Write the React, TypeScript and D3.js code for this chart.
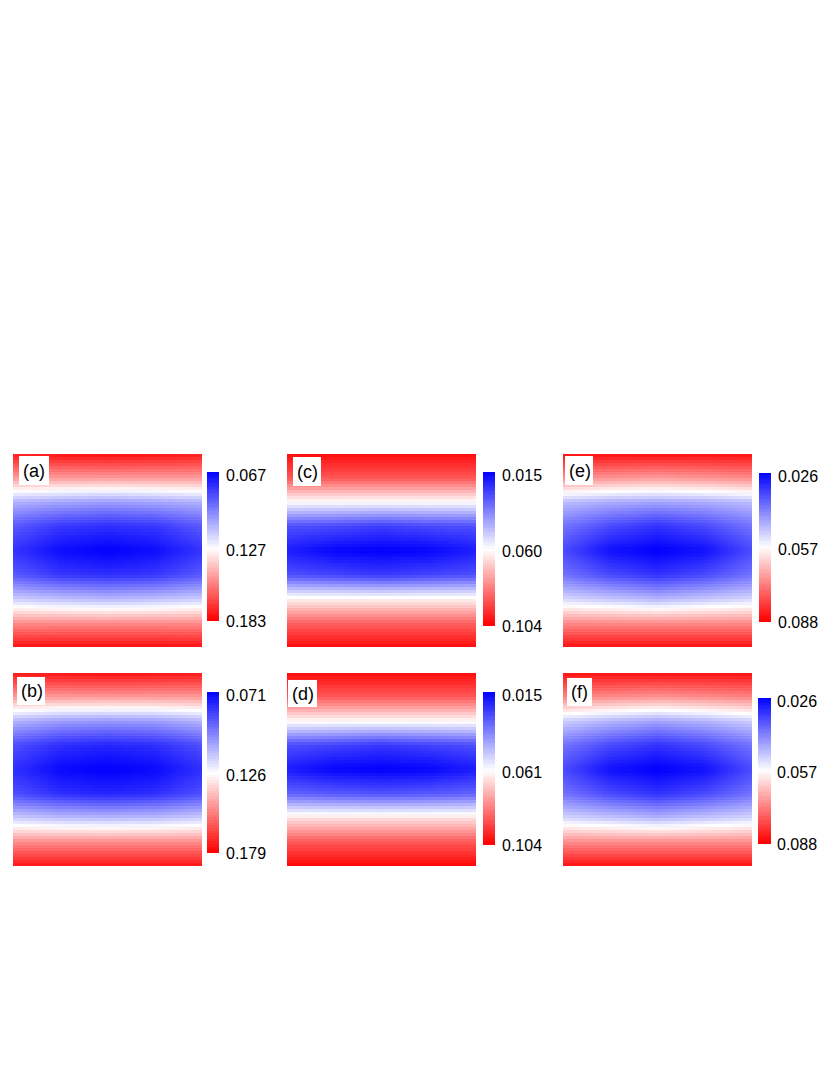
import React from "react";
import * as d3 from "d3";

// ---------- DATA ----------
const panelLabels = ["(a)", "(b)", "(c)", "(d)", "(e)", "(f)"];

// sample positions of the field grids (fraction of panel height / width)
const rowFractions = [0, 0.125, 0.25, 0.375, 0.5, 0.625, 0.75, 0.875, 1];
const colFractions = [0, 0.25, 0.5, 0.75, 1];

// colour-bar values: [min (blue), mid (white), max (red)]
const scaleA = [0.067, 0.127, 0.183];
const scaleB = [0.071, 0.126, 0.179];
const scaleC = [0.015, 0.06, 0.104];
const scaleD = [0.015, 0.061, 0.104];
const scaleE = [0.026, 0.057, 0.088];
const scaleF = [0.026, 0.057, 0.088];

// field values (rows top→bottom, columns left→right)
const fieldA = [
  [0.177, 0.179, 0.180, 0.179, 0.177],
  [0.149, 0.149, 0.149, 0.149, 0.149],
  [0.109, 0.106, 0.104, 0.106, 0.109],
  [0.088, 0.080, 0.078, 0.080, 0.088],
  [0.079, 0.070, 0.067, 0.070, 0.079],
  [0.088, 0.080, 0.078, 0.080, 0.088],
  [0.115, 0.112, 0.110, 0.112, 0.115],
  [0.152, 0.152, 0.152, 0.152, 0.152],
  [0.179, 0.180, 0.180, 0.180, 0.179],
];
const fieldB = [
  [0.174, 0.175, 0.176, 0.175, 0.174],
  [0.147, 0.147, 0.147, 0.147, 0.147],
  [0.110, 0.105, 0.104, 0.105, 0.110],
  [0.088, 0.081, 0.079, 0.081, 0.088],
  [0.081, 0.073, 0.071, 0.073, 0.081],
  [0.088, 0.081, 0.079, 0.081, 0.088],
  [0.115, 0.112, 0.111, 0.112, 0.115],
  [0.150, 0.150, 0.150, 0.150, 0.150],
  [0.175, 0.175, 0.175, 0.175, 0.175],
];
const fieldC = [
  [0.102, 0.102, 0.102, 0.102, 0.102],
  [0.089, 0.089, 0.089, 0.089, 0.089],
  [0.060, 0.060, 0.060, 0.060, 0.060],
  [0.029, 0.028, 0.026, 0.028, 0.029],
  [0.020, 0.016, 0.015, 0.016, 0.020],
  [0.029, 0.027, 0.025, 0.027, 0.029],
  [0.062, 0.062, 0.062, 0.062, 0.062],
  [0.087, 0.087, 0.087, 0.087, 0.087],
  [0.102, 0.102, 0.102, 0.102, 0.102],
];
const fieldD = [
  [0.102, 0.102, 0.102, 0.102, 0.102],
  [0.089, 0.089, 0.089, 0.089, 0.089],
  [0.062, 0.062, 0.062, 0.062, 0.062],
  [0.029, 0.027, 0.025, 0.027, 0.029],
  [0.020, 0.016, 0.015, 0.016, 0.020],
  [0.033, 0.031, 0.030, 0.031, 0.033],
  [0.066, 0.066, 0.066, 0.066, 0.066],
  [0.089, 0.089, 0.089, 0.089, 0.089],
  [0.103, 0.103, 0.103, 0.103, 0.103],
];
const fieldE = [
  [0.086, 0.086, 0.086, 0.086, 0.086],
  [0.071, 0.070, 0.069, 0.070, 0.071],
  [0.049, 0.047, 0.046, 0.047, 0.049],
  [0.040, 0.035, 0.032, 0.035, 0.040],
  [0.035, 0.028, 0.026, 0.028, 0.035],
  [0.040, 0.035, 0.032, 0.035, 0.040],
  [0.052, 0.050, 0.048, 0.050, 0.052],
  [0.071, 0.071, 0.071, 0.071, 0.071],
  [0.086, 0.086, 0.086, 0.086, 0.086],
];
const fieldF = [
  [0.086, 0.086, 0.086, 0.086, 0.086],
  [0.072, 0.071, 0.070, 0.071, 0.072],
  [0.051, 0.048, 0.046, 0.048, 0.051],
  [0.040, 0.035, 0.032, 0.035, 0.040],
  [0.035, 0.028, 0.026, 0.028, 0.035],
  [0.040, 0.035, 0.032, 0.035, 0.040],
  [0.052, 0.050, 0.048, 0.050, 0.052],
  [0.071, 0.071, 0.071, 0.071, 0.071],
  [0.086, 0.086, 0.086, 0.086, 0.086],
];

const fields = [fieldA, fieldB, fieldC, fieldD, fieldE, fieldF];
const scales = [scaleA, scaleB, scaleC, scaleD, scaleE, scaleF];
const tickFormat = d3.format(".3f");

// ---------- LAYOUT ----------
type Layout = {
  x: number; y: number; w: number; h: number;
  bx: number; by: number; bw: number; bh: number;
  tx: number;
  lx: number; ly: number; lw: number; lh: number;
};
const layouts: Layout[] = [
  { x: 13, y: 454, w: 189, h: 193, bx: 207, by: 472, bw: 12, bh: 148, tx: 226, lx: 19, ly: 456, lw: 30, lh: 29 },
  { x: 13, y: 673, w: 189, h: 193, bx: 207, by: 692, bw: 12, bh: 160, tx: 226, lx: 17, ly: 677, lw: 28, lh: 28 },
  { x: 287, y: 454, w: 189, h: 193, bx: 483, by: 472, bw: 12, bh: 153, tx: 502, lx: 293, ly: 457, lw: 28, lh: 29 },
  { x: 287, y: 673, w: 189, h: 193, bx: 483, by: 692, bw: 12, bh: 152, tx: 502, lx: 288, ly: 680, lw: 29, lh: 27 },
  { x: 563, y: 454, w: 189, h: 193, bx: 759, by: 473, bw: 12, bh: 148, tx: 778, lx: 565, ly: 456, lw: 28, lh: 29 },
  { x: 563, y: 673, w: 189, h: 193, bx: 758, by: 698, bw: 13, bh: 145, tx: 777, lx: 567, ly: 678, lw: 25, lh: 28 },
];

const NX = 63;
const NY = 64;
const FONT = "'Liberation Sans', Arial, Helvetica, sans-serif";

function Panel({ idx }: { idx: number }) {
  const L = layouts[idx];
  const field = fields[idx];
  const sc = scales[idx];
  const color = d3
    .scaleLinear<string>()
    .domain(sc)
    .range(["#0000ff", "#ffffff", "#ff0000"])
    .interpolate(d3.interpolateRgb)
    .clamp(true);

  const xBand = d3.scaleBand<number>().domain(d3.range(NX)).range([L.x, L.x + L.w]);
  const yBand = d3.scaleBand<number>().domain(d3.range(NY)).range([L.y, L.y + L.h]);

  // per-column vertical scales through the sampled rows
  const colScales = colFractions.map((_, j) =>
    d3.scaleLinear().domain(rowFractions).range(field.map((r) => r[j]))
  );

  const cells: React.ReactNode[] = [];
  for (let r = 0; r < NY; r++) {
    const fy = (r + 0.5) / NY;
    const rowVals = colScales.map((s) => s(fy));
    const rowScale = d3.scaleLinear().domain(colFractions).range(rowVals);
    for (let c = 0; c < NX; c++) {
      const fx = (c + 0.5) / NX;
      cells.push(
        <rect
          key={r * NX + c}
          x={xBand(c)}
          y={yBand(r)}
          width={xBand.bandwidth() + 0.6}
          height={yBand.bandwidth() + 0.6}
          fill={color(rowScale(fx))}
        />
      );
    }
  }

  // colour bar
  const barY = d3.scaleLinear().domain([sc[0], sc[2]]).range([L.by, L.by + L.bh]);
  const NB = 60;
  const barVals = d3.range(NB).map((k) => sc[0] + ((k + 0.5) / NB) * (sc[2] - sc[0]));
  const barBand = d3.scaleBand<number>().domain(d3.range(NB)).range([L.by, L.by + L.bh]);

  return (
    <g>
      <clipPath id={`clip${idx}`}>
        <rect x={L.x} y={L.y} width={L.w} height={L.h} />
      </clipPath>
      <g clipPath={`url(#clip${idx})`} shapeRendering="crispEdges">
        {cells}
      </g>
      <rect x={L.lx} y={L.ly} width={L.lw} height={L.lh} fill="#ffffff" />
      <text
        x={L.lx + 4}
        y={L.ly + L.lh / 2}
        dominantBaseline="central"
        fontFamily={FONT}
        fontSize={18}
        fill="#000"
      >
        {panelLabels[idx]}
      </text>
      <g shapeRendering="crispEdges">
        {barVals.map((v, k) => (
          <rect
            key={k}
            x={L.bx}
            y={barBand(k)}
            width={L.bw}
            height={barBand.bandwidth() + 0.6}
            fill={color(v)}
          />
        ))}
      </g>
      {sc.map((v, k) => (
        <text
          key={k}
          x={L.tx}
          y={barY(v) + (k === 0 ? 3 : k === 1 ? 2 : 1)}
          dominantBaseline="central"
          fontFamily={FONT}
          fontSize={16}
          fill="#000"
        >
          {tickFormat(v)}
        </text>
      ))}
    </g>
  );
}

export default function App() {
  return (
    <svg
      width={830}
      height={1075}
      style={{ position: "absolute", left: 0, top: 0, background: "#ffffff" }}
    >
      <rect x={0} y={0} width={830} height={1075} fill="#ffffff" />
      {layouts.map((_, i) => (
        <Panel key={i} idx={i} />
      ))}
    </svg>
  );
}
